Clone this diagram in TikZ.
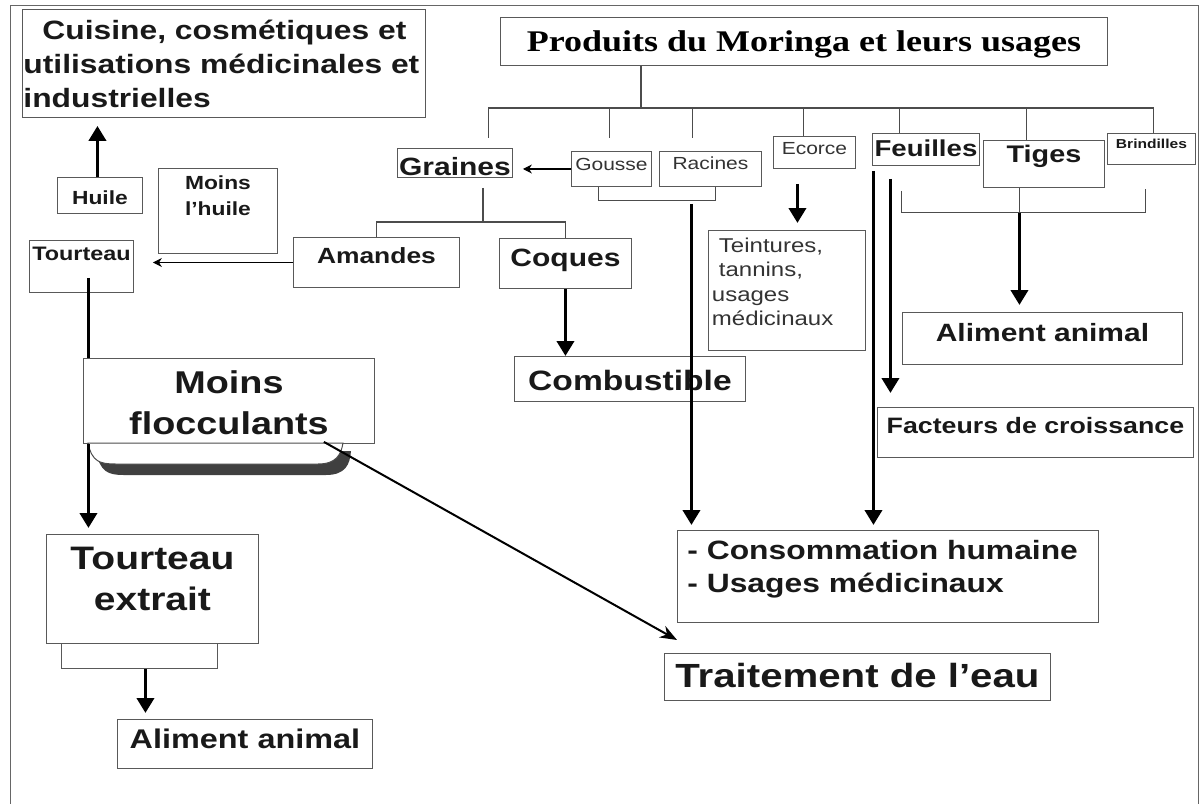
\documentclass[tikz,border=0pt]{standalone}
\usepackage{fontspec}
\setmainfont{Liberation Sans}[FakeStretch=1.2]
\newfontfamily\titrefont{Liberation Serif}[FakeStretch=1.2]
\usetikzlibrary{positioning,arrows.meta}

\begin{document}
\begin{tikzpicture}[x=1pt, y=-1pt,
	box/.style={draw=black!65, line width=0.9pt, inner sep=0pt, anchor=north west, text=black!90},
	gras/.style={font=\bfseries\fontsize{#1}{#1}\selectfont},
	fin/.style={font=\fontsize{#1}{#1}\selectfont, text=black!80},
	lien/.style={draw=black!70, line width=1.1pt},
	epais/.style={line width=3.8pt},
	flux/.style={line width=3.8pt, -{Triangle[length=15pt,width=17pt]}},
	fleche/.style={line width=1.1pt, -{Stealth[length=9pt,width=9pt]}},
	diag/.style={line width=2pt, -{Stealth[length=17pt,width=13pt]}}]
	\useasboundingbox (0,0) rectangle (1204,803);
	\draw[black!60, line width=1pt] (10,5) rectangle (1198,830);

	% en haut
	\node(titre)[box, font=\titrefont\bfseries\fontsize{30}{30}\selectfont, text=black, minimum width=607pt, text height=34pt, text depth=14pt] at (500,17) {Produits du Moringa et leurs usages};
	\node(cuisine)[box, font=\bfseries\fontsize{26.5}{34}\selectfont, minimum width=403pt, text height=30.5pt, text depth=77.5pt] at (22,9) {\parbox[t]{401pt}{\raggedright\hspace*{19pt}Cuisine, cosmétiques et\\utilisations médicinales et\\industrielles}};

	\node(graines)[box, gras=25, minimum width=115pt, text height=27pt, text depth=2pt] at (397,148) {Graines};
	\node(gousse)[box, fin=17.5, minimum width=80pt, text height=19pt, text depth=16pt] at (571,151) {Gousse};
	\node(racines)[box, fin=17.5, minimum width=102pt, text height=18pt, text depth=17pt] at (659,151) {Racines};
	\node(ecorce)[box, fin=17.5, minimum width=82pt, text height=18pt, text depth=14pt] at (773,136) {Ecorce};
	\node(feuilles)[box, gras=23, minimum width=107pt, text height=23pt, text depth=9pt] at (872,133) {Feuilles};
	\node(tiges)[box, gras=24, minimum width=121pt, text height=22pt, text depth=25pt] at (983,140) {Tiges};
	\node(brindilles)[box, gras=13, minimum width=88pt, text height=15pt, text depth=16pt] at (1107,133) {Brindilles};

	% a gauche
	\node(huile)[box, gras=19, minimum width=85pt, text height=27pt, text depth=9pt] at (57,177) {Huile};
	\node(moinshuile)[box, font=\bfseries\fontsize{19}{26}\selectfont, minimum width=119pt, text height=21pt, text depth=64pt] at (158,168) {\parbox[t]{110pt}{\centering Moins\\l'huile}};
	\node(tourteau)[box, gras=19.5, minimum width=104pt, text height=20pt, text depth=32pt] at (29,240) {Tourteau};
	\node(amandes)[box, gras=22, minimum width=166pt, text height=26pt, text depth=24pt] at (293,237) {Amandes};
	\node(coques)[box, gras=25, minimum width=132pt, text height=28pt, text depth=22pt] at (499,238) {Coques};
	\node(combustible)[box, gras=28, minimum width=231pt, text height=34pt, text depth=11pt] at (514,356) {Combustible};
	\node(teintures)[box, font=\fontsize{20}{24.5}\selectfont, text=black!80, minimum width=157pt, text height=22pt, text depth=98pt] at (708,230) {\parbox[t]{150pt}{\raggedright\hspace*{7pt}Teintures,\\\hspace*{7pt}tannins,\\usages\\médicinaux}};

	% a droite
	\node(alimentd)[box, gras=25, minimum width=280pt, text height=29pt, text depth=23pt] at (902,312) {Aliment animal};
	\node(facteurs)[box, gras=22.3, minimum width=316pt, text height=26pt, text depth=24pt] at (877,407) {Facteurs de croissance};
	\node(conso)[box, font=\bfseries\fontsize{26.5}{33}\selectfont, minimum width=421pt, text height=29pt, text depth=63pt] at (677,530) {\parbox[t]{401pt}{\raggedright - Consommation humaine\\- Usages médicinaux}};
	\node(traitement)[box, gras=33.5, minimum width=386pt, text height=34pt, text depth=13pt] at (664,653) {Traitement de l’eau};

	% en bas a gauche
	\node(moinsfl)[box, font=\bfseries\fontsize{31.5}{41}\selectfont, minimum width=291pt, text height=35pt, text depth=50pt] at (83,358) {\parbox[t]{280pt}{\centering Moins\\flocculants}};
	\node(extrait)[box, font=\bfseries\fontsize{32.5}{41}\selectfont, minimum width=212pt, text height=35pt, text depth=74pt] at (46,534) {\parbox[t]{205pt}{\centering Tourteau\\extrait}};
	\node(socle)[box, minimum width=156pt, minimum height=25pt] at (61,643) {};
	\node(alimentg)[box, gras=27, minimum width=255pt, text height=29pt, text depth=20pt] at (117,719) {Aliment animal};

	% ombre sous Moins flocculants
	\fill[black!75] (96,451) .. controls (100,472) and (108,475) .. (124,475) -- (326,475) .. controls (345,475) and (350,465) .. (351,451) -- cycle;
	\filldraw[fill=white, draw=black!70, line width=1pt] (88,443) .. controls (92,462) and (100,464) .. (116,464) -- (318,464) .. controls (336,464) and (341,455) .. (343,443) -- cycle;

	% arbre du titre
	\coordinate (nT) at (641,108);
	\draw[lien] (titre.south -| nT) -- (nT);
	\draw[lien] (nT) -| ([xshift=33.5pt,yshift=10pt]graines.north);
	\draw[lien] (nT) -| ([xshift=-2pt,yshift=13pt]gousse.north);
	\draw[lien] (nT) -| ([xshift=-18pt,yshift=13pt]racines.north);
	\draw[lien] (nT) -| ([xshift=-11pt]ecorce.north);
	\draw[lien] (nT) -| ([xshift=-26.5pt]feuilles.north);
	\draw[lien] (nT) -| ([xshift=-17.5pt]tiges.north);
	\draw[lien] (nT) -| ([xshift=2pt]brindilles.north);

	% graines
	\draw[fleche] (gousse.west) -- ([xshift=10pt]gousse.west -| graines.east);
	\coordinate (nG) at (483,222);
	\draw[lien] ([yshift=-10pt]nG |- graines.south) -- (nG);
	\draw[lien] (amandes.north) |- (nG) -| (coques.north);
	\draw[fleche] (amandes.west) -- ([xshift=19pt]amandes.west -| tourteau.east);
	\draw[flux, shorten >=8pt] ([xshift=-2.5pt]huile.north) -- ([xshift=-2.5pt]huile.north |- cuisine.south);
	\draw[flux] (coques.south) -- (coques.south |- combustible.north);

	% tourteau
	\coordinate (xT) at ([xshift=7pt]tourteau.south);
	\draw[epais] ([yshift=15pt]xT) -- (xT |- moinsfl.north);
	\draw[flux, shorten >=6pt] (xT |- moinsfl.south) -- (xT |- extrait.north);
	\draw[flux, shorten >=6pt] ([xshift=6pt]socle.south) -- ([xshift=6pt]socle.south |- alimentg.north);
	\draw[diag] ([xshift=-51pt,yshift=2pt]moinsfl.south east) -- ([xshift=13pt,yshift=13pt]traitement.north west);

	% racines et ecorce
	\draw[lien] ([xshift=-13pt]gousse.south) |- ([xshift=5pt,yshift=-14pt]racines.south) -- ([xshift=5pt]racines.south);
	\coordinate (xR) at ([xshift=-19pt,yshift=-17pt]racines.south);
	\draw[flux, shorten >=5pt] (xR) -- (xR |- conso.north);
	\coordinate (xE) at ([xshift=-17pt,yshift=-15pt]ecorce.south);
	\draw[flux, shorten >=7pt] (xE) -- (xE |- teintures.north);

	% feuilles
	\coordinate (xF1) at ([xshift=-52.5pt,yshift=-5pt]feuilles.south);
	\coordinate (xF2) at ([xshift=-35.5pt,yshift=-13pt]feuilles.south);
	\draw[flux, shorten >=5pt] (xF1) -- (xF1 |- conso.north);
	\draw[flux, shorten >=14pt] (xF2) -- (xF2 |- facteurs.north);

	% tiges
	\coordinate (nTi) at ([xshift=-24.5pt,yshift=-25pt]tiges.south);
	\draw[lien] ([xshift=-24.5pt]tiges.south) -- (nTi);
	\draw[lien] ([xshift=-142.5pt,yshift=-3pt]tiges.south) |- (nTi) -| ([xshift=101.5pt,yshift=-1pt]tiges.south);
	\draw[flux, shorten >=7pt] (nTi) -- (nTi |- alimentd.north);
\end{tikzpicture}
\end{document}
